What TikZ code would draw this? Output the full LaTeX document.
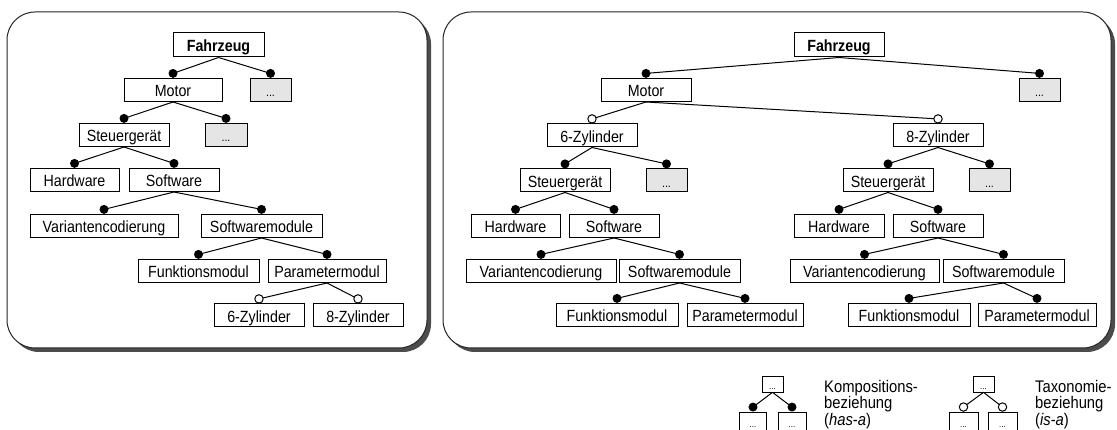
\documentclass[tikz,border=0pt]{standalone}
\usepackage{fontspec}
\setmainfont{Liberation Sans}[FakeStretch=0.88]
\usetikzlibrary{calc}
\definecolor{panelshadow}{gray}{0.30}
\definecolor{panelline}{gray}{0.15}
\definecolor{boxgray}{gray}{0.90}
% composition (has-a): filled dot; taxonomy (is-a): open circle
\newcommand\hasrel[2]{%
  \draw[link] (#1.south) -- ($(#2.north)+(0,-4.6)$);
  \fill ($(#2.north)+(0,-4.6)$) circle[radius=4.5];}
\newcommand\isrel[2]{%
  \draw[link] (#1.south) -- ($(#2.north)+(0,-4.6)$);
  \filldraw[link, fill=white] ($(#2.north)+(0,-4.6)$) circle[radius=4.2];}
\begin{document}
\begin{tikzpicture}[x=1pt, y=-1pt,
  box/.style={draw=black, line width=1pt, fill=white, inner sep=0pt,
    minimum height=23pt, text height=13.6pt, text depth=0pt,
    font=\fontsize{16.2}{18}\selectfont},
  more/.style={box, fill=boxgray, font=\fontsize{12}{13}\selectfont},
  minibox/.style={draw=black, line width=0.7pt, fill=white, inner sep=0pt,
    text height=12pt, text depth=0pt, font=\fontsize{9}{10}\selectfont},
  link/.style={line width=1pt},
  panel/.style={fill=white, draw=panelline, line width=1pt, rounded corners=28pt},
  panelshade/.style={fill=panelshadow, rounded corners=28pt},
  legend/.style={anchor=base west, inner sep=0pt, font=\fontsize{16.8}{17}\selectfont},
]
\useasboundingbox (0,0) rectangle (1117,430);

% panels with drop shadow
\fill[panelshade] (11,16) rectangle (431,352);
\draw[panel] (7,12) rectangle (427,348);
\fill[panelshade] (447,16) rectangle (1115,352);
\draw[panel] (443,12) rectangle (1111,348);

% ---------- left tree ----------
\node[box, minimum width=91, minimum height=24] (LF) at (218.5,45) {\textbf{Fahrzeug}};
\node[box, minimum width=98] (LM) at (173,90) {Motor};
\node[more, minimum width=41] (LX1) at (270.5,90) {...};
\node[box, minimum width=90] (LS) at (124,135) {Steuergerät};
\node[more, minimum width=42] (LX2) at (226,135) {...};
\node[box, minimum width=89] (LH) at (74.5,180) {Hardware};
\node[box, minimum width=90] (LSW) at (174,180) {Software};
\node[box, minimum width=148] (LV) at (104,226) {Variantencodierung};
\node[box, minimum width=121] (LSM) at (261.5,226) {Softwaremodule};
\node[box, minimum width=121] (LFM) at (198.5,271) {Funktionsmodul};
\node[box, minimum width=118] (LPM) at (327,271) {Parametermodul};
\node[box, minimum width=90] (L6) at (259,315.5) {6-Zylinder};
\node[box, minimum width=90] (L8) at (358,315.5) {8-Zylinder};

\hasrel{LF}{LM} \hasrel{LF}{LX1}
\hasrel{LM}{LS} \hasrel{LM}{LX2}
\hasrel{LS}{LH} \hasrel{LS}{LSW}
\hasrel{LSW}{LV} \hasrel{LSW}{LSM}
\hasrel{LSM}{LFM} \hasrel{LSM}{LPM}
\isrel{LPM}{L6} \isrel{LPM}{L8}

% ---------- right tree ----------
\node[box, minimum width=90, minimum height=24] (RF) at (839,45) {\textbf{Fahrzeug}};
\node[box, minimum width=90] (RM) at (646,90) {Motor};
\node[more, minimum width=41] (RX0) at (1039.5,90) {...};
\node[box, minimum width=90] (R6) at (592,135.5) {6-Zylinder};
\node[box, minimum width=90] (R8) at (938,135.5) {8-Zylinder};

\node[box, minimum width=90] (R6S) at (565,180.5) {Steuergerät};
\node[more, minimum width=41] (R6X) at (666.5,180.5) {...};
\node[box, minimum width=89] (R6H) at (515.5,226) {Hardware};
\node[box, minimum width=90] (R6W) at (614,226) {Software};
\node[box, minimum width=150] (R6V) at (541,271) {Variantencodierung};
\node[box, minimum width=121] (R6M) at (679.5,271) {Softwaremodule};
\node[box, minimum width=122] (R6F) at (617,315) {Funktionsmodul};
\node[box, minimum width=116] (R6P) at (745,315) {Parametermodul};

\node[box, minimum width=90] (R8S) at (888,180.5) {Steuergerät};
\node[more, minimum width=41] (R8X) at (989.5,180.5) {...};
\node[box, minimum width=90] (R8H) at (839,226) {Hardware};
\node[box, minimum width=90] (R8W) at (938,226) {Software};
\node[box, minimum width=149] (R8V) at (864.5,271) {Variantencodierung};
\node[box, minimum width=121] (R8M) at (1003.5,271) {Softwaremodule};
\node[box, minimum width=122] (R8F) at (909,315) {Funktionsmodul};
\node[box, minimum width=118] (R8P) at (1037,315) {Parametermodul};

\hasrel{RF}{RM} \hasrel{RF}{RX0}
\isrel{RM}{R6} \isrel{RM}{R8}
\hasrel{R6}{R6S} \hasrel{R6}{R6X}
\hasrel{R6S}{R6H} \hasrel{R6S}{R6W}
\hasrel{R6W}{R6V} \hasrel{R6W}{R6M}
\hasrel{R6M}{R6F} \hasrel{R6M}{R6P}
\hasrel{R8}{R8S} \hasrel{R8}{R8X}
\hasrel{R8S}{R8H} \hasrel{R8S}{R8W}
\hasrel{R8W}{R8V} \hasrel{R8W}{R8M}
\hasrel{R8M}{R8F} \hasrel{R8M}{R8P}

% ---------- legend ----------
\node[minibox, minimum width=21, minimum height=16] (KT) at (772.5,384) {...};
\node[minibox, minimum width=27, minimum height=19] (KL) at (753,421.5) {...};
\node[minibox, minimum width=28, minimum height=19] (KR) at (792,421.5) {...};
\hasrel{KT}{KL} \hasrel{KT}{KR}
\node[legend] (K1) at (824,392) {Kompositions-};
\node[legend] (K2) at (824,409) {beziehung};
\node[legend] (K3) at (824,425.5) {(\textit{has}-\textit{a})};

\node[minibox, minimum width=21, minimum height=16] (TT) at (983.5,384) {...};
\node[minibox, minimum width=29, minimum height=19] (TL) at (963.5,421.5) {...};
\node[minibox, minimum width=29, minimum height=19] (TR) at (1002.5,421.5) {...};
\isrel{TT}{TL} \isrel{TT}{TR}
\node[legend] (T1) at (1035,392) {Taxonomie-};
\node[legend] (T2) at (1035,409) {beziehung};
\node[legend] (T3) at (1035,425.5) {(\textit{is}-\textit{a})};
\end{tikzpicture}
\end{document}
